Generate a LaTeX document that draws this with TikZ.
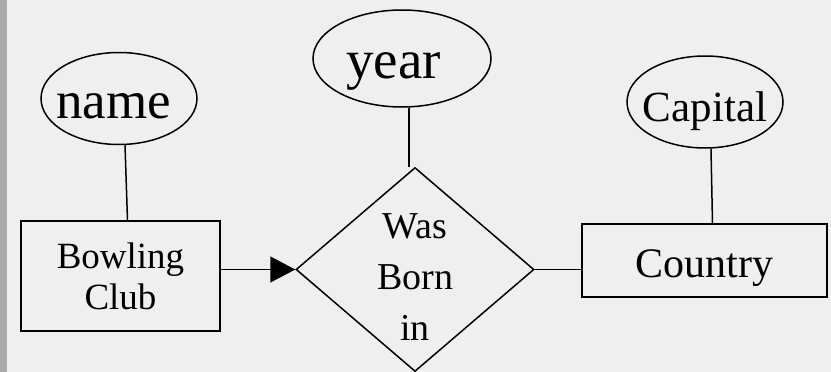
\documentclass[tikz,border=0pt]{standalone}
\usepackage{fontspec}
\setmainfont{Liberation Serif}
\usetikzlibrary{shapes.geometric,arrows.meta}
\definecolor{bgcol}{HTML}{EFEFEF}
\definecolor{stripcol}{HTML}{A9A9A9}
\begin{document}
\begin{tikzpicture}[x=1pt,y=-1pt,
  line width=1.5pt,
  attr/.style={ellipse,draw,inner sep=0pt,text height=40pt,text depth=0pt},
  ent/.style={rectangle,draw,inner sep=0pt},
  rel/.style={diamond,draw,inner sep=0pt,aspect=1.1667},
  txt/.style={inner sep=0pt,align=center,anchor=north}]
\useasboundingbox (0,0) rectangle (831,372);
\fill[bgcol] (0,0) rectangle (831,372);
\fill[stripcol] (0,0) rectangle (7,372);
% attributes
\node[attr,minimum width=156pt,minimum height=92pt,font=\fontsize{53}{60}\selectfont] (name) at (119,98.5) {\makebox[0pt]{name\kern11pt}};
\node[attr,minimum width=178pt,minimum height=97pt,font=\fontsize{55}{60}\selectfont,text height=39pt] (year) at (402,58.5) {\makebox[0pt]{year\kern17pt}};
\node[attr,minimum width=156pt,minimum height=92pt,font=\fontsize{43}{50}\selectfont,text height=38pt] (cap) at (705,102) {\makebox[0pt]{Capital}};
% entities
\node[ent,minimum width=199pt,minimum height=110pt] (bc) at (120.5,276) {};
\node[txt,font=\fontsize{37}{41}\selectfont] (bctxt) at (120.5,242) {Bowling\\Club};
\node[ent,minimum width=245pt,minimum height=73pt,font=\fontsize{42}{50}\selectfont,text height=33pt,text depth=0pt] (ctry) at (704.5,260.5) {Country};
% relationship
\node[rel,minimum width=238pt,minimum height=204pt] (wb) at (415,269.5) {};
\node[txt,font=\fontsize{38}{51}\selectfont] (wbtxt) at (415,213) {Was\\Born\\in};
% connectors
\draw ([xshift=6pt]name.south) -- ([xshift=7pt]bc.north);
\draw ([xshift=7pt]year.south) -- ([xshift=7pt]year.south |- wb.north);
\draw ([xshift=6pt]cap.south) -- ([xshift=8pt]ctry.north);
\draw[-{Triangle[length=25pt,width=26pt]}] (bc.east |- wb.west) -- (wb.west);
\draw (wb.east) -- (wb.east -| ctry.west);
\end{tikzpicture}
\end{document}
